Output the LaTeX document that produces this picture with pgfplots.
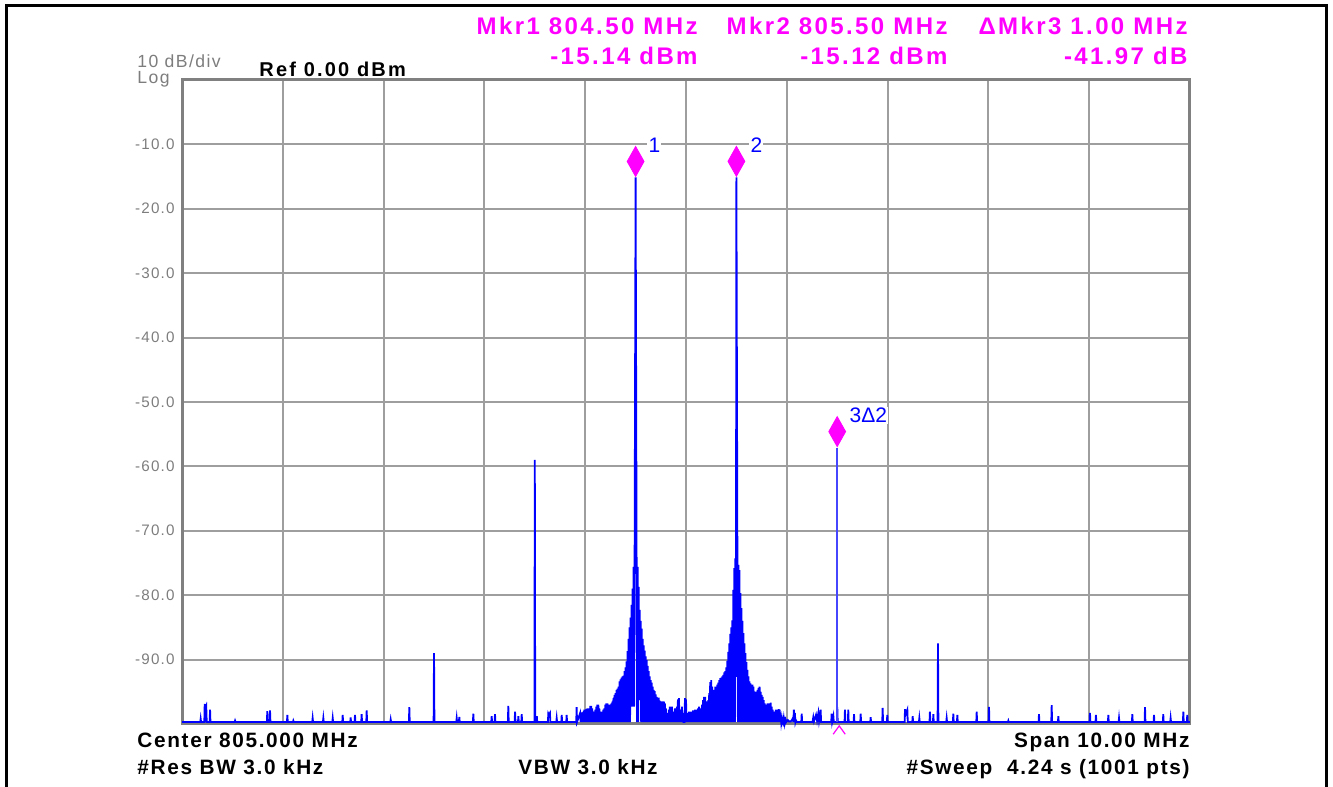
\documentclass[border=0pt]{standalone}
\usepackage{fontspec}
\setmainfont{Liberation Sans}
\newfontfamily\lsmk[LetterSpace=10]{Liberation Sans}
\newfontfamily\lsref[LetterSpace=11]{Liberation Sans}
\newfontfamily\lsbot[LetterSpace=8]{Liberation Sans}
\newfontfamily\lstick[LetterSpace=8]{Liberation Sans}
\usepackage{pgfplots}
\pgfplotsset{compat=1.18}

\definecolor{mk}{RGB}{255,0,255}
\definecolor{trace}{RGB}{0,0,255}
\definecolor{mkline}{RGB}{70,70,255}
\definecolor{ticktxt}{RGB}{125,125,125}

\newcommand{\fbig}{\lsmk\fontsize{12}{13.5}\selectfont\bfseries}
\newcommand{\fmid}{\lsbot\fontsize{10.4}{12}\selectfont\bfseries}
\newcommand{\fref}{\lsref\fontsize{10}{11}\selectfont\bfseries}
\newcommand{\fsmall}{\lstick\fontsize{7.6}{8.5}\selectfont}
\newcommand{\fhead}{\lstick\fontsize{8.8}{10}\selectfont}

\begin{document}
\begin{tikzpicture}
\begin{axis}[
  scale only axis, width=504pt, height=322pt,
  xmin=800, xmax=810, ymin=-100, ymax=0,
  xtick={801,...,809}, xticklabels={},
  ytick={-90,-80,-70,-60,-50,-40,-30,-20,-10},
  yticklabels={-90.0,-80.0,-70.0,-60.0,-50.0,-40.0,-30.0,-20.0,-10.0},
  major tick length=0pt,
  grid=major, grid style={draw=black!38, line width=1pt},
  axis line style={draw=black!50, line width=1.5pt},
  yticklabel style={font=\fsmall, text=ticktxt, anchor=east, inner sep=0pt, xshift=-3.5pt},
  clip=false,
]
% trace, 800..810 MHz
\addplot[trace, line width=0.9pt] coordinates {
(800.00,-99.7)
(800.181,-99.7)(800.185,-99.2)(800.189,-99.7)
(800.221,-99.7)(800.225,-96.9)(800.23,-99.7)(800.235,-97.4)(800.24,-97.2)(800.245,-99.7)(800.274,-99.7)(800.278,-97.8)(800.282,-99.7)
(800.522,-99.7)(800.526,-99.5)(800.53,-99.7)
(800.842,-99.7)(800.846,-98.0)(800.85,-99.7)(800.869,-99.7)(800.873,-97.9)(800.877,-99.7)
(801.041,-99.7)(801.045,-98.6)(801.049,-99.7)
(801.10,-99.7)(801.104,-99.5)(801.108,-99.7)
(801.292,-99.7)(801.296,-99.1)(801.30,-99.7)
(801.398,-99.7)(801.402,-99.1)(801.406,-99.7)
(801.491,-99.7)(801.495,-99.1)(801.499,-99.7)
(801.59,-99.7)(801.594,-98.6)(801.598,-99.7)
(801.669,-99.7)(801.673,-99.0)(801.677,-99.7)
(801.712,-99.7)(801.716,-98.6)(801.72,-99.7)
(801.778,-99.7)(801.782,-98.5)(801.786,-99.7)
(801.828,-99.7)(801.832,-97.9)(801.836,-99.7)
(802.066,-99.7)(802.07,-99.3)(802.074,-99.7)
(802.251,-99.7)(802.255,-97.4)(802.259,-99.7)
(802.496,-99.7)(802.50,-89.0)(802.504,-99.7)
(802.721,-99.7)(802.725,-99.1)(802.729,-99.7)(802.747,-99.7)(802.751,-98.9)(802.755,-99.7)
(802.886,-99.7)(802.89,-98.4)(802.894,-99.7)
(803.068,-99.7)(803.072,-98.8)(803.076,-99.7)(803.101,-99.7)(803.105,-98.5)(803.109,-99.7)
(803.233,-99.7)(803.237,-97.2)(803.241,-99.7)
(803.30,-99.7)(803.304,-98.1)(803.308,-99.7)(803.333,-99.7)(803.337,-98.8)(803.341,-99.7)(803.366,-99.7)(803.37,-98.5)(803.374,-99.7)
(803.496,-99.7)(803.50,-59.0)(803.504,-99.7)
(803.516,-99.7)(803.52,-98.8)(803.524,-99.7)
(803.63,-99.7)(803.634,-98.4)(803.64,-98.6)(803.65,-98.3)(803.654,-99.7)
(803.713,-99.7)(803.717,-99.1)(803.721,-99.7)
(803.763,-99.7)(803.767,-98.6)(803.771,-99.7)
(803.812,-99.7)(803.816,-98.6)(803.82,-99.7)
(803.911,-99.7)(803.915,-97.4)(803.919,-99.7)
(803.95,-98.3)(803.955,-99.7)(803.96,-98.3)(803.965,-99.7)(803.97,-98.2)(803.975,-99.7)(803.98,-98.1)(803.985,-99.7)(803.99,-97.8)(803.995,-99.7)
(804.00,-97.8)(804.005,-99.7)(804.01,-97.7)(804.015,-99.7)(804.02,-97.6)(804.025,-99.7)(804.03,-97.6)(804.035,-99.7)(804.04,-97.6)(804.045,-99.7)
(804.05,-97.2)(804.055,-99.7)(804.06,-97.2)(804.065,-99.7)(804.07,-97.6)(804.075,-99.7)(804.08,-98.1)(804.085,-99.7)(804.09,-98.3)(804.095,-99.7)
(804.10,-97.8)(804.105,-99.7)(804.11,-97.3)(804.115,-99.7)(804.12,-97.0)(804.125,-99.7)(804.13,-97.0)(804.135,-99.7)(804.14,-97.6)(804.145,-99.7)
(804.15,-98.1)(804.155,-99.7)(804.16,-98.3)(804.165,-99.7)(804.17,-98.1)(804.175,-99.7)(804.18,-97.8)(804.185,-99.7)(804.19,-97.6)(804.195,-99.7)
(804.20,-97.0)(804.205,-99.7)(804.21,-96.8)(804.215,-99.7)(804.22,-96.8)(804.225,-99.7)(804.23,-97.0)(804.235,-99.7)(804.24,-97.3)(804.245,-99.7)
(804.25,-97.0)(804.255,-99.7)(804.26,-96.8)(804.265,-99.7)(804.27,-96.5)(804.275,-99.7)(804.28,-96.0)(804.285,-99.7)(804.29,-95.5)(804.295,-99.7)
(804.30,-95.2)(804.305,-99.7)(804.31,-94.7)(804.315,-99.7)(804.32,-94.5)(804.325,-99.7)(804.33,-94.2)(804.335,-99.7)(804.34,-93.4)(804.345,-99.7)
(804.35,-93.1)(804.355,-99.7)(804.36,-92.8)(804.365,-99.7)(804.37,-92.6)(804.375,-99.7)(804.38,-92.5)(804.385,-99.7)(804.39,-91.8)(804.395,-99.7)
(804.40,-91.2)(804.405,-99.7)(804.41,-90.3)(804.415,-99.7)(804.42,-88.7)(804.425,-99.7)(804.43,-86.8)(804.435,-99.7)(804.44,-85.0)(804.445,-99.7)
(804.45,-83.5)(804.455,-97.3)(804.46,-81.5)(804.465,-97.3)(804.47,-79.0)(804.475,-97.3)(804.48,-75.6)(804.485,-97.3)(804.49,-75.1)(804.50,-15.14)
(804.51,-75.1)(804.515,-99.7)(804.52,-75.6)(804.525,-99.7)(804.53,-78.7)(804.535,-96.3)(804.54,-82.3)(804.545,-96.3)
(804.55,-84.0)(804.555,-99.7)(804.56,-85.2)(804.565,-99.7)(804.57,-86.8)(804.575,-99.7)(804.58,-87.8)(804.585,-99.7)(804.59,-88.6)(804.595,-99.7)
(804.60,-89.5)(804.605,-99.7)(804.61,-90.1)(804.615,-99.7)(804.62,-91.0)(804.625,-99.7)(804.63,-91.8)(804.635,-99.7)(804.64,-92.6)(804.645,-99.7)
(804.65,-93.2)(804.655,-99.7)(804.66,-93.6)(804.665,-99.7)(804.67,-94.2)(804.675,-99.7)(804.68,-94.7)(804.685,-99.7)(804.69,-94.9)(804.695,-99.7)
(804.70,-95.4)(804.705,-99.7)(804.71,-95.8)(804.715,-99.7)(804.72,-96.0)(804.725,-99.7)(804.73,-95.9)(804.735,-99.7)(804.74,-96.4)(804.745,-99.7)
(804.75,-96.8)(804.755,-99.7)(804.76,-96.5)(804.765,-99.7)(804.77,-97.3)(804.775,-99.7)(804.78,-96.5)(804.785,-99.7)(804.79,-96.8)(804.795,-99.7)
(804.80,-97.6)(804.805,-99.7)(804.81,-98.3)(804.815,-99.7)(804.82,-98.3)(804.825,-99.7)(804.83,-97.8)(804.835,-99.7)(804.84,-97.3)(804.845,-99.7)
(804.85,-97.6)(804.855,-99.7)(804.86,-97.3)(804.865,-99.7)(804.87,-98.1)(804.875,-99.7)(804.88,-98.3)(804.885,-99.7)(804.89,-97.6)(804.895,-99.7)
(804.90,-98.3)(804.905,-99.7)(804.91,-97.3)(804.915,-99.7)(804.92,-96.2)(804.925,-99.7)(804.93,-96.0)(804.935,-99.7)(804.94,-97.8)(804.945,-99.7)
(804.95,-98.3)(804.955,-99.7)(804.96,-97.3)(804.965,-99.7)(804.97,-98.3)(804.975,-99.7)(804.98,-99.7)(804.985,-99.7)(804.99,-96.0)(804.995,-99.7)
(805.00,-96.2)(805.005,-99.7)(805.01,-98.3)(805.015,-99.7)(805.02,-98.3)(805.025,-99.7)(805.03,-98.1)(805.035,-99.7)(805.04,-98.2)(805.045,-99.7)
(805.05,-98.1)(805.055,-99.7)(805.06,-98.1)(805.065,-99.7)(805.07,-97.9)(805.075,-99.7)(805.08,-97.9)(805.085,-99.7)(805.09,-97.8)(805.095,-99.7)
(805.10,-97.8)(805.105,-99.7)(805.11,-97.9)(805.115,-99.7)(805.12,-97.6)(805.125,-99.7)(805.13,-97.3)(805.135,-99.7)(805.14,-97.6)(805.145,-99.7)
(805.15,-97.8)(805.155,-99.7)(805.16,-97.0)(805.165,-99.7)(805.17,-96.3)(805.175,-99.7)(805.18,-95.8)(805.185,-99.7)(805.19,-95.8)(805.195,-99.7)
(805.20,-96.5)(805.205,-99.7)(805.21,-97.3)(805.215,-99.7)(805.22,-96.3)(805.225,-99.7)(805.23,-95.2)(805.235,-99.7)(805.24,-93.5)(805.245,-99.7)
(805.25,-93.2)(805.255,-99.7)(805.26,-94.2)(805.265,-99.7)(805.27,-96.0)(805.275,-99.7)(805.28,-94.7)(805.285,-99.7)(805.29,-94.2)(805.295,-99.7)
(805.30,-94.2)(805.305,-99.7)(805.31,-93.9)(805.315,-99.7)(805.32,-93.6)(805.325,-99.7)(805.33,-93.2)(805.335,-99.7)(805.34,-92.9)(805.345,-99.7)
(805.35,-92.8)(805.355,-99.7)(805.36,-92.6)(805.365,-99.7)(805.37,-92.4)(805.375,-99.7)(805.38,-92.0)(805.385,-99.7)(805.39,-91.8)(805.395,-99.7)
(805.40,-91.2)(805.405,-99.7)(805.41,-90.2)(805.415,-99.7)(805.42,-88.8)(805.425,-99.7)(805.43,-87.5)(805.435,-99.7)(805.44,-86.0)(805.445,-99.7)
(805.45,-85.0)(805.455,-99.7)(805.46,-83.9)(805.465,-99.7)(805.47,-79.2)(805.475,-99.7)(805.48,-75.8)(805.485,-99.7)(805.49,-74.3)(805.495,-92.7)(805.50,-15.12)
(805.51,-74.5)(805.515,-99.7)(805.52,-75.3)(805.525,-99.7)(805.53,-76.1)(805.535,-99.7)(805.54,-79.7)(805.545,-99.7)
(805.55,-82.0)(805.555,-99.7)(805.56,-84.0)(805.565,-99.7)(805.57,-85.9)(805.575,-99.7)(805.58,-87.5)(805.585,-99.7)(805.59,-89.0)(805.595,-99.7)
(805.60,-90.4)(805.605,-99.7)(805.61,-91.6)(805.615,-99.7)(805.62,-92.6)(805.625,-99.7)(805.63,-93.4)(805.635,-99.7)(805.64,-93.7)(805.645,-99.7)
(805.65,-93.9)(805.655,-99.7)(805.66,-93.9)(805.665,-99.7)(805.67,-94.2)(805.675,-99.7)(805.68,-95.0)(805.685,-99.7)(805.69,-95.2)(805.695,-99.7)
(805.70,-95.0)(805.705,-99.7)(805.71,-94.7)(805.715,-99.7)(805.72,-94.4)(805.725,-99.7)(805.73,-94.2)(805.735,-99.7)(805.74,-95.0)(805.745,-99.7)
(805.75,-95.5)(805.755,-99.7)(805.76,-95.8)(805.765,-99.7)(805.77,-96.3)(805.775,-99.7)(805.78,-96.8)(805.785,-99.7)(805.79,-97.0)(805.795,-99.7)
(805.80,-97.0)(805.805,-99.7)(805.81,-96.8)(805.815,-99.7)(805.82,-97.3)(805.825,-99.7)(805.83,-96.8)(805.835,-99.7)(805.84,-96.7)(805.845,-99.7)
(805.85,-97.3)(805.855,-99.7)(805.86,-97.8)(805.865,-99.7)(805.87,-98.1)(805.875,-99.7)(805.88,-98.3)(805.885,-99.7)(805.89,-97.8)(805.895,-99.7)
(805.90,-98.1)(805.905,-99.7)(805.91,-97.8)(805.915,-99.7)(805.92,-97.7)(805.925,-99.7)(805.93,-97.8)(805.935,-99.7)(805.94,-98.6)(805.945,-99.7)
(805.95,-99.1)(805.955,-99.7)(805.96,-99.4)(805.965,-99.7)(805.97,-99.1)(805.975,-99.7)(805.98,-98.9)(805.985,-99.7)(805.99,-99.4)(805.995,-99.7)
(806.00,-99.6)(806.01,-99.4)(806.02,-99.6)(806.04,-99.6)(806.05,-99.4)(806.06,-99.1)(806.065,-99.7)(806.07,-97.8)(806.075,-99.7)(806.08,-98.3)(806.085,-99.7)(806.09,-99.4)(806.10,-99.7)
(806.144,-99.7)(806.148,-98.4)(806.152,-99.7)
(806.255,-99.7)(806.263,-98.95)(806.27,-99.6)(806.29,-98.6)(806.30,-99.5)(806.313,-98.3)(806.32,-99.5)(806.336,-97.8)(806.34,-99.7)
(806.441,-99.7)(806.445,-98.4)(806.45,-99.7)(806.462,-98.8)(806.466,-99.7)
(806.497,-99.7)(806.501,-97.4)(806.505,-99.7)
(806.573,-99.7)(806.577,-97.8)(806.581,-99.7)(806.606,-99.7)(806.61,-97.8)(806.614,-99.7)
(806.663,-99.7)(806.667,-98.5)(806.671,-99.7)
(806.729,-99.7)(806.733,-98.4)(806.737,-99.7)
(806.828,-99.7)(806.832,-98.95)(806.836,-99.7)
(806.947,-99.7)(806.951,-97.5)(806.955,-99.7)
(806.993,-99.7)(806.997,-98.6)(807.001,-99.7)
(807.169,-99.7)(807.173,-97.7)(807.18,-98.5)(807.196,-97.8)(807.20,-99.7)
(807.245,-99.7)(807.249,-98.8)(807.253,-99.7)
(807.311,-99.7)(807.315,-99.1)(807.319,-99.7)
(807.416,-99.7)(807.42,-98.1)(807.424,-99.7)(807.45,-99.7)(807.454,-98.5)(807.458,-99.7)
(807.496,-99.7)(807.50,-87.5)(807.504,-99.7)
(807.582,-99.7)(807.586,-99.1)(807.59,-99.7)
(807.648,-99.7)(807.652,-98.4)(807.656,-99.7)(807.688,-99.7)(807.692,-98.6)(807.696,-99.7)
(807.88,-99.7)(807.884,-98.1)(807.888,-99.7)
(808.002,-99.7)(808.006,-97.35)(808.01,-99.7)
(808.194,-99.7)(808.198,-99.5)(808.202,-99.7)
(808.498,-99.7)(808.502,-98.5)(808.506,-99.7)
(808.624,-99.7)(808.628,-97.1)(808.632,-99.7)
(808.69,-99.7)(808.694,-98.8)(808.698,-99.7)
(809.004,-99.7)(809.008,-98.3)(809.012,-99.7)
(809.063,-99.7)(809.067,-98.6)(809.071,-99.7)
(809.186,-99.7)(809.19,-98.6)(809.194,-99.7)
(809.292,-99.7)(809.296,-99.1)(809.30,-99.7)
(809.424,-99.7)(809.428,-98.5)(809.432,-99.7)
(809.55,-99.7)(809.554,-97.4)(809.558,-99.7)
(809.639,-99.7)(809.643,-98.6)(809.647,-99.7)
(809.731,-99.7)(809.735,-98.5)(809.739,-99.7)
(809.804,-99.7)(809.808,-99.1)(809.812,-99.7)
(809.93,-99.7)(809.934,-98.1)(809.938,-99.7)
(809.969,-99.7)(809.973,-98.6)(809.977,-99.7)
(810.00,-99.7)
};
% delta marker 3 line and its foot mark
\addplot[mkline, line width=0.7pt] coordinates {(806.5,-57.09) (806.5,-99.7)};
\addplot[mk, line width=0.6pt] coordinates {(806.46,-101.6) (806.52,-100.3) (806.58,-101.6)};
% marker diamonds
\addplot[only marks, mark=diamond*, mark size=7.5pt,
  mark options={fill=mk, draw=mk, xscale=0.75, yshift=8pt}]
  coordinates {(804.5,-15.14) (805.5,-15.12) (806.5,-57.09)};

\node[anchor=base west, font=\fontsize{10.5}{12}\selectfont, text=trace, fill=white, inner sep=0.6pt] at (axis cs:804.613,-11.34) {1};
\node[anchor=base west, font=\fontsize{10.5}{12}\selectfont, text=trace, fill=white, inner sep=0.6pt] at (axis cs:805.625,-11.34) {2};
\node[anchor=base west, font=\fontsize{10.5}{12}\selectfont, text=trace, fill=white, inner sep=0.6pt] at (axis cs:806.607,-53.26) {3Δ2};

% header
\node[anchor=base west, font=\fhead, text=ticktxt, inner sep=0pt] at (axis cs:799.554,1.86) {10 dB/div};
\node[anchor=base west, font=\fhead, text=ticktxt, inner sep=0pt] at (axis cs:799.554,-0.55) {Log};
\node[anchor=base west, font=\fref, inner sep=0pt] at (axis cs:800.764,0.47) {Ref 0.00 dBm};
\node[anchor=base east, font=\fbig, text=mk, inner sep=0pt] at (axis cs:805.119,6.99) {Mkr1 804.50 MHz};
\node[anchor=base east, font=\fbig, text=mk, inner sep=0pt] at (axis cs:805.119,2.33) {-15.14 dBm};
\node[anchor=base east, font=\fbig, text=mk, inner sep=0pt] at (axis cs:807.599,6.99) {Mkr2 805.50 MHz};
\node[anchor=base east, font=\fbig, text=mk, inner sep=0pt] at (axis cs:807.599,2.33) {-15.12 dBm};
\node[anchor=base east, font=\fbig, text=mk, inner sep=0pt] at (axis cs:809.98,6.99) {ΔMkr3 1.00 MHz};
\node[anchor=base east, font=\fbig, text=mk, inner sep=0pt] at (axis cs:809.98,2.33) {-41.97 dB};

% footer
\node[anchor=base west, font=\fmid, inner sep=0pt] at (axis cs:799.554,-103.73) {Center 805.000 MHz};
\node[anchor=base west, font=\fmid, inner sep=0pt] at (axis cs:799.554,-107.92) {\#Res BW 3.0 kHz};
\node[anchor=base west, font=\fmid, inner sep=0pt] at (axis cs:803.333,-107.92) {VBW 3.0 kHz};
\node[anchor=base east, font=\fmid, inner sep=0pt] at (axis cs:810.0,-103.73) {Span 10.00 MHz};
\node[anchor=base east, font=\fmid, inner sep=0pt] at (axis cs:810.0,-107.92) {\#Sweep\ \ 4.24 s (1001 pts)};

% outer frame
\draw[line width=1.5pt] (axis cs:798.254,-115) -- (axis cs:798.254,11.49)
  -- (axis cs:811.354,11.49) -- (axis cs:811.354,-115);
\coordinate (bbsw) at (axis cs:798.194,-109.78);
\coordinate (bbne) at (axis cs:811.419,12.42);
\end{axis}
\pgfresetboundingbox
\useasboundingbox (bbsw) rectangle (bbne);
\end{tikzpicture}
\end{document}
